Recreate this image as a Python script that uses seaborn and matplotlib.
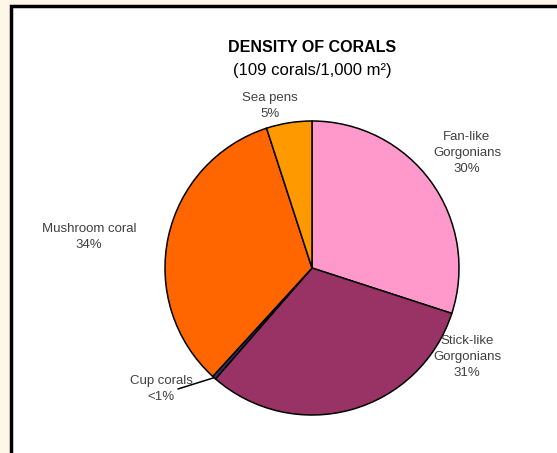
import matplotlib
matplotlib.use("Agg")
import matplotlib.pyplot as plt
import seaborn as sns
import numpy as np
from matplotlib.patches import Rectangle

# data (clockwise from the top)
categories = ["Fan-like\nGorgonians", "Stick-like\nGorgonians", "Cup corals",
              "Mushroom coral", "Sea pens"]
shares = [30.0, 31.4, 0.4, 33.2, 5.0]
pct_labels = ["30%", "31%", "<1%", "34%", "5%"]
colors = ["#FF99CC", "#993366", "#333366", "#FF6600", "#FF9900"]

sns.set_theme(style="white")
plt.rcParams['font.family'] = ['Liberation Sans', 'DejaVu Sans']

W, H = 557, 453
fig = plt.figure(figsize=(W / 100, H / 100), dpi=100)
fig.patch.set_facecolor("#FEF7E8")

# white panel with black frame
fig.patches.append(Rectangle((11 / W, -0.1), 1.2, (H - 6) / H + 0.1,
                             transform=fig.transFigure, facecolor="white",
                             edgecolor="black", linewidth=2.5, zorder=-5))

cx, cy, R = 312, 268, 147
side = 400
ax = fig.add_axes([(cx - side / 2) / W, (H - cy - side / 2) / H, side / W, side / H])
ax.set_zorder(2)
ax.set_facecolor("none")

wedges, _ = ax.pie(shares, colors=colors, startangle=90, counterclock=False,
                   wedgeprops=dict(edgecolor="black", linewidth=1.1))
lim = side / 2 / R
ax.set_xlim(-lim, lim)
ax.set_ylim(-lim, lim)
ax.set_aspect("equal")
ax.axis("off")


def px(x, y):
    return (x - cx) / R, (cy - y) / R


txt = dict(fontsize=9.5, color="#404040", ha="center", va="center",
           linespacing=1.45)
label_pos = [(467, 153), (467, 357), (161, 389), (89, 237), (270, 106)]
for i, (name, pct) in enumerate(zip(categories, pct_labels)):
    x, y = px(*label_pos[i])
    ax.text(x, y, f"{name}\n{pct}", clip_on=False, **txt)

# leader line to the cup corals slice
w = wedges[2]
ang = np.deg2rad((w.theta1 + w.theta2) / 2)
x0, y0 = px(178, 389)
ax.plot([x0, np.cos(ang)], [y0, np.sin(ang)], color="black", lw=1.1,
        clip_on=False)

fig.text(cx / W, 1 - 48 / H, "DENSITY OF CORALS", ha="center", va="center",
         fontsize=11.5, fontweight="bold", color="black", zorder=3)
fig.text(cx / W, 1 - 70 / H, "(109 corals/1,000 m\u00b2)", ha="center",
         va="center", fontsize=12, color="black", zorder=3)

fig.savefig("out.png", dpi=100)
